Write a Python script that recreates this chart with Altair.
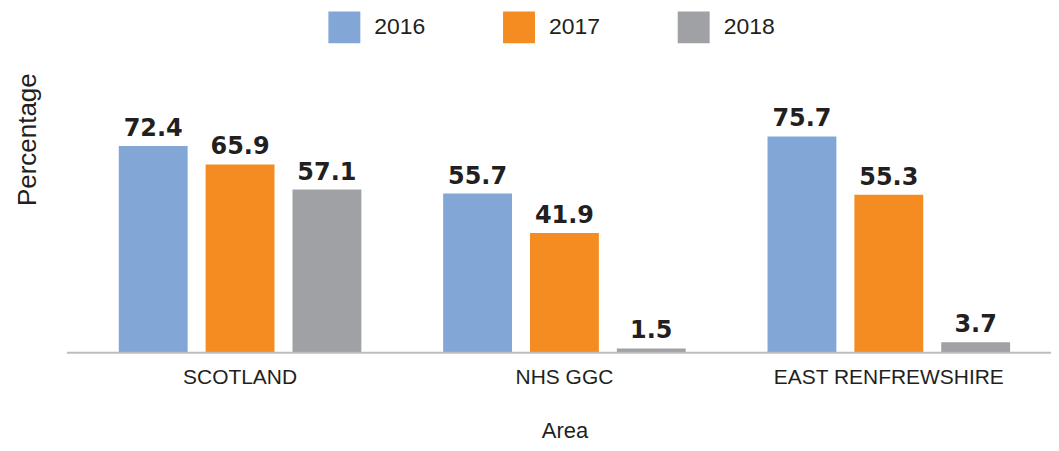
import altair as alt
import pandas as pd

areas = ["SCOTLAND", "NHS GGC", "EAST RENFREWSHIRE"]
years = ["2016", "2017", "2018"]
v2016 = [72.4, 55.7, 75.7]
v2017 = [65.9, 41.9, 55.3]
v2018 = [57.1, 1.5, 3.7]
colors = ["#82A6D6", "#F48C21", "#A0A1A5"]

rows = []
for i, a in enumerate(areas):
    for y, vals in zip(years, [v2016, v2017, v2018]):
        rows.append({"Area": a, "Year": y, "Value": vals[i]})
df = pd.DataFrame(rows)

TXT = "#231F20"
FONT = "Liberation Sans"

x_enc = alt.X("Area:N", sort=areas,
              scale=alt.Scale(paddingInner=0, paddingOuter=0),
              axis=alt.Axis(title="Area", domain=False, ticks=False, tickSize=0,
                            labelAngle=0, labelFont=FONT, labelFontSize=21,
                            labelColor=TXT, labelPadding=14, labelLimit=0,
                            titleFont=FONT, titleFontSize=22, titleFontWeight="normal",
                            titleColor=TXT, titleY=68, titleBaseline="top"))
xo_enc = alt.XOffset("Year:N", sort=years,
                     scale=alt.Scale(paddingInner=0.207, paddingOuter=0.471))
y_enc = alt.Y("Value:Q", scale=alt.Scale(domain=[0, 80], nice=False, zero=True),
              axis=alt.Axis(title="Percentage", labels=False, ticks=False, domain=False,
                            grid=False, titleFont=FONT, titleFontSize=26,
                            titleFontWeight="normal", titleColor=TXT,
                            titleX=-37, titleY=15, titleAngle=-90))

base = alt.Chart(df)

bars = base.mark_bar().encode(
    x=x_enc, xOffset=xo_enc, y=y_enc,
    color=alt.Color("Year:N", sort=years,
                    scale=alt.Scale(domain=years, range=colors),
                    legend=alt.Legend(title=None, orient="none", legendX=251, legendY=-113,
                                      direction="horizontal", columns=3,
                                      symbolType="square", symbolSize=1024,
                                      symbolStrokeWidth=0, labelFont=FONT,
                                      labelFontSize=23, labelColor=TXT,
                                      labelOffset=14, columnPadding=77, padding=0)),
)

labels = base.mark_text(font="DejaVu Sans", fontWeight="bold", fontSize=24,
                        color=TXT, baseline="alphabetic", dy=-10).encode(
    x=alt.X("Area:N", sort=areas), xOffset=alt.XOffset("Year:N", sort=years),
    y="Value:Q", text=alt.Text("Value:Q", format=".1f"),
)

baseline = alt.Chart(pd.DataFrame({"d": [0]})).mark_rule(color="#BDBDBD", strokeWidth=2).encode(
    x=alt.value(-11), x2=alt.value(990), y=alt.value(229))

chart = alt.layer(bars, labels, baseline).properties(
    width=975, height=229,
    autosize=alt.AutoSizeParams(type="none"),
    padding={"left": 70, "top": 116, "right": 0, "bottom": 90},
).configure_view(stroke=None)

chart.save("out.html", embed_options={"renderer": "svg", "actions": False})
